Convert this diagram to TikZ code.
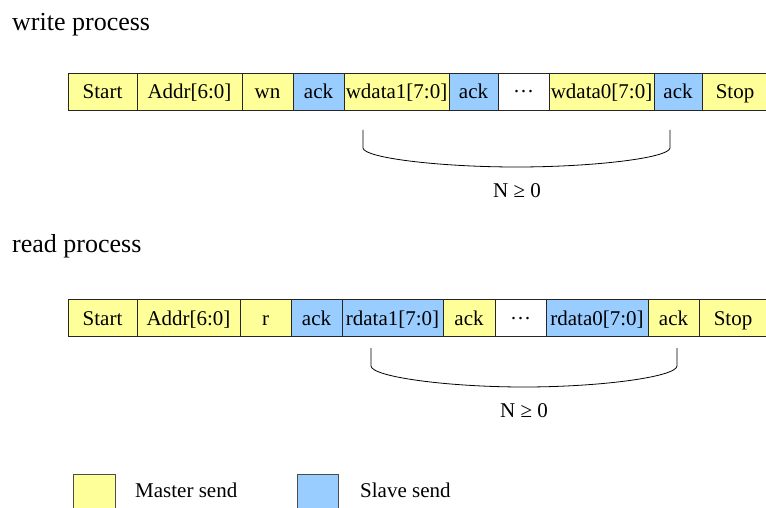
\documentclass[tikz,border=0pt]{standalone}
\usepackage{fontspec}
\setmainfont{Liberation Serif}
\definecolor{mastercol}{HTML}{FFFF99}
\definecolor{slavecol}{HTML}{99CCFF}
\begin{document}
\begin{tikzpicture}[x=1pt,y=-1pt,
  cell/.style={draw=black!85, line width=0.75pt, inner sep=0pt, minimum height=37pt,
    text height=16pt, text depth=2pt, font=\fontsize{21}{24}\selectfont},
  mcell/.style={cell, fill=mastercol},
  scell/.style={cell, fill=slavecol},
  ecell/.style={cell, fill=white},
  head/.style={anchor=base west, inner sep=0pt, font=\fontsize{26}{30}\selectfont},
  lbl/.style={anchor=base, inner sep=0pt, font=\fontsize{21}{24}\selectfont},
  brace/.style={draw=black, line width=0.8pt},
  legbox/.style={draw=black!70, line width=0.75pt},
]
\useasboundingbox (0,0) rectangle (766,508);
\clip (0,0) rectangle (766,508);

% headers
\node[head] (hw) at (12,31) {write process};
\node[head] (hr) at (12,252) {read process};

% write row
\node[mcell, minimum width=69pt]  (w1)  at (102.5,91.5) {Start};
\node[mcell, minimum width=105pt] (w2)  at (189.5,91.5) {Addr[6:0]};
\node[mcell, minimum width=51pt]  (w3)  at (267.5,91.5) {wn};
\node[scell, minimum width=51pt]  (w4)  at (318.5,91.5) {ack};
\node[mcell, minimum width=105pt] (w5)  at (396.5,91.5) {wdata1[7:0]};
\node[scell, minimum width=49pt]  (w6)  at (473.5,91.5) {ack};
\node[ecell, minimum width=51pt]  (w7)  at (523.5,91.5) {···};
\node[mcell, minimum width=105pt] (w8)  at (601.5,91.5) {wdata0[7:0]};
\node[scell, minimum width=48pt]  (w9)  at (678,91.5) {ack};
\node[mcell, minimum width=66pt]  (w10) at (735,91.5) {Stop};

% write brace
\draw[brace] (363,130) -- (363,148) .. controls (364,158) and (440,167) .. (516.5,167)
  .. controls (593,167) and (669,158) .. (670,148) -- (670,130);
\node[lbl] (nw) at (517,197) {N ≥ 0};

% read row
\node[mcell, minimum width=69pt]  (r1)  at (102.5,318) {Start};
\node[mcell, minimum width=103pt] (r2)  at (188.5,318) {Addr[6:0]};
\node[mcell, minimum width=51pt]  (r3)  at (265.5,318) {r};
\node[scell, minimum width=51pt]  (r4)  at (316.5,318) {ack};
\node[scell, minimum width=101pt] (r5)  at (392.5,318) {rdata1[7:0]};
\node[mcell, minimum width=52pt]  (r6)  at (469,318) {ack};
\node[ecell, minimum width=51pt]  (r7)  at (520.5,318) {···};
\node[scell, minimum width=102pt] (r8)  at (597,318) {rdata0[7:0]};
\node[mcell, minimum width=51pt]  (r9)  at (673.5,318) {ack};
\node[mcell, minimum width=68pt]  (r10) at (733,318) {Stop};

% read brace
\draw[brace] (371,348) -- (371,366) .. controls (372,377) and (448,387) .. (524,387)
  .. controls (600,387) and (676,377) .. (677,366) -- (677,348);
\node[lbl] (nr) at (524,417) {N ≥ 0};

% legend
\draw[legbox, fill=mastercol] (73,474) rectangle (115,512);
\node[anchor=base west, inner sep=0pt, font=\fontsize{21}{24}\selectfont] (lm) at (135,497) {Master send};
\draw[legbox, fill=slavecol] (297,474) rectangle (338,512);
\node[anchor=base west, inner sep=0pt, font=\fontsize{21}{24}\selectfont] (ls) at (360,497) {Slave send};
\end{tikzpicture}
\end{document}
